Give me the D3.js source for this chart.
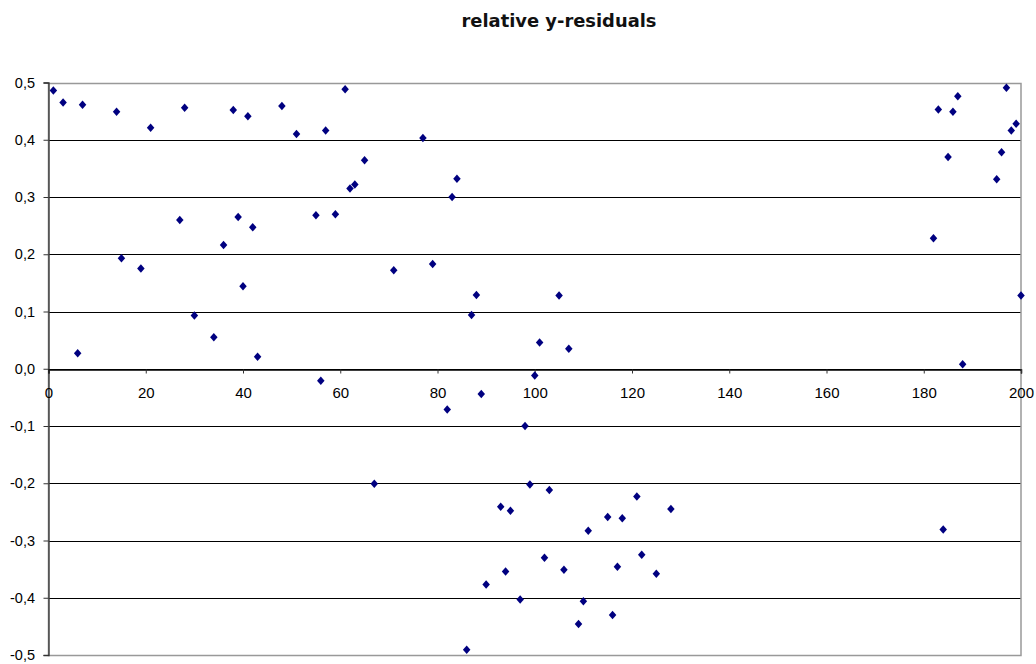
<!DOCTYPE html>
<html>
<head>
<meta charset="utf-8">
<script src="https://cdn.jsdelivr.net/npm/d3@7"></script>
<style>
  body { margin: 0; background: #fff; }
  svg text { font-family: "Liberation Sans", Arial, sans-serif; }
</style>
</head>
<body>
<div id="chart"></div>
<script>
// data
const xValues = [1, 3, 6, 7, 14, 15, 19, 21, 27, 28, 30, 34, 36, 38, 39, 40, 41, 42, 43, 48,
  51, 55, 56, 57, 59, 61, 62, 63, 65, 67, 71, 77, 79, 82, 83, 84, 86, 87, 88, 89,
  90, 93, 94, 95, 97, 98, 99, 100, 101, 102, 103, 105, 106, 107, 109, 110, 111, 115, 116, 117,
  118, 121, 122, 125, 128, 182, 183, 184, 185, 186, 187, 188, 195, 196, 197, 198, 199, 200];
const yValues = [0.486, 0.465, 0.027, 0.461, 0.449, 0.193, 0.175, 0.421, 0.260, 0.456, 0.093, 0.055, 0.216, 0.452, 0.265, 0.144, 0.441, 0.247, 0.021, 0.459,
  0.410, 0.268, -0.021, 0.416, 0.270, 0.488, 0.315, 0.322, 0.364, -0.201, 0.172, 0.403, 0.183, -0.071, 0.300, 0.332, -0.491, 0.094, 0.129, -0.044,
  -0.377, -0.241, -0.354, -0.248, -0.403, -0.100, -0.202, -0.012, 0.046, -0.330, -0.212, 0.128, -0.351, 0.035, -0.446, -0.406, -0.283, -0.259, -0.430, -0.346,
  -0.261, -0.223, -0.325, -0.358, -0.245, 0.228, 0.453, -0.281, 0.370, 0.449, 0.476, 0.008, 0.331, 0.378, 0.491, 0.416, 0.428, 0.128];
const xTicks = [0, 20, 40, 60, 80, 100, 120, 140, 160, 180, 200];
const yTicks = [0.5, 0.4, 0.3, 0.2, 0.1, 0, -0.1, -0.2, -0.3, -0.4, -0.5];
const title = "relative y-residuals";

const width = 1036, height = 664;
const plotLeft = 48.5, plotRight = 1021, plotTop = 82.5, plotBottom = 655;

const svg = d3.select("#chart").append("svg")
  .attr("width", width)
  .attr("height", height);

const x = d3.scaleLinear().domain([0, 200]).range([plotLeft, plotRight]);
const y = d3.scaleLinear().domain([-0.5, 0.5]).range([plotBottom, plotTop]);
const fmt = v => d3.format(".1f")(v).replace(".", ",").replace("−", "-");

// title
svg.append("text")
  .attr("x", 559)
  .attr("y", 27)
  .attr("text-anchor", "middle")
  .attr("textLength", 195)
  .attr("lengthAdjust", "spacingAndGlyphs")
  .style("font-family", "'DejaVu Sans', Verdana, sans-serif")
  .style("font-weight", "bold")
  .style("font-size", "18px")
  .attr("fill", "#111")
  .text(title);

// gridlines
svg.append("g").selectAll("line")
  .data(yTicks.filter(v => Math.abs(v) < 0.45))
  .enter().append("line")
  .attr("x1", plotLeft).attr("x2", plotRight)
  .attr("y1", d => Math.round(y(d)) + 0.5).attr("y2", d => Math.round(y(d)) + 0.5)
  .attr("stroke", "#000")
  .attr("stroke-width", 1);

// frame: top, bottom and right in grey
svg.append("rect")
  .attr("x", plotLeft).attr("y", Math.round(plotTop) + 0.5)
  .attr("width", plotRight - plotLeft).attr("height", Math.round(plotBottom) - Math.round(plotTop))
  .attr("fill", "none")
  .attr("stroke", "#999")
  .attr("stroke-width", 1.5);

// y axis
const yAxis = d3.axisLeft(y).tickValues(yTicks).tickSize(5).tickPadding(8.5).tickFormat(fmt);
const gy = svg.append("g").attr("transform", `translate(${plotLeft},0)`).call(yAxis);
gy.select(".domain").attr("stroke", "#333").attr("stroke-width", 1.3);
gy.selectAll(".tick line").attr("stroke", "#333");
gy.selectAll("text").style("font-size", "14.5px").attr("fill", "#000");

// x axis at y = 0
const xAxis = d3.axisBottom(x).tickValues(xTicks).tickSize(4).tickPadding(14).tickFormat(d3.format("d"));
const gx = svg.append("g").attr("transform", `translate(0,${Math.round(y(0)) + 0.5})`).call(xAxis);
gx.select(".domain").attr("stroke", "#000").attr("stroke-width", 1.5);
gx.selectAll(".tick line").attr("stroke", "#333");
gx.selectAll("text").style("font-size", "15px").attr("fill", "#000");

// points
const points = xValues.map((v, i) => ({ x: v, y: yValues[i] }));
const diamond = "M0,-4.25L3.75,0L0,4.25L-3.75,0Z";
svg.append("g").selectAll("path")
  .data(points)
  .enter().append("path")
  .attr("d", diamond)
  .attr("transform", d => `translate(${x(d.x)},${y(d.y)})`)
  .attr("fill", "#000080");
</script>
</body>
</html>
